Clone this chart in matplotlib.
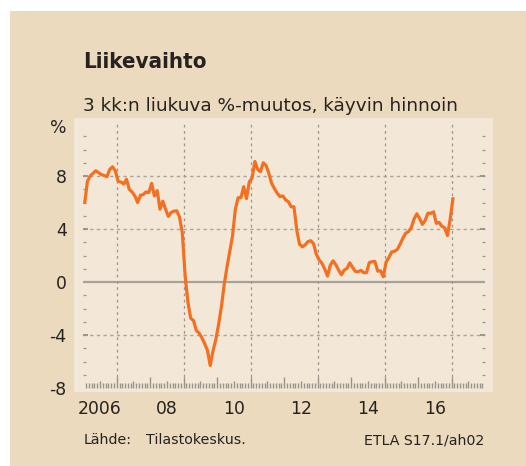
import numpy as np
import matplotlib
matplotlib.use("Agg")
import matplotlib.pyplot as plt
from matplotlib import font_manager
from matplotlib.patches import Rectangle

# Liikevaihto, 3 kk:n liukuva %-muutos, kuukausittain 1/2006 - 1/2017
start_year = 2006
values = [
    5.9, 7.6, 8.0, 8.2, 8.4, 8.25, 8.1, 8.05, 7.95, 8.5, 8.7, 8.4,
    7.6, 7.55, 7.4, 7.75, 7.0, 6.8, 6.5, 6.0, 6.55, 6.6, 6.8, 6.75,
    7.45, 6.5, 6.9, 5.5, 6.1, 5.5, 4.95, 5.25, 5.35, 5.38, 4.9, 3.7,
    0.5, -1.5, -2.74, -2.9, -3.65, -3.85, -4.2, -4.65, -5.15, -6.3, -5.2, -4.35,
    -3.2, -1.87, -0.2, 1.13, 2.3, 3.5, 5.5, 6.36, 6.36, 7.2, 6.3, 7.57,
    7.85, 9.1, 8.5, 8.33, 9.0, 8.8, 8.2, 7.45, 7.05, 6.7, 6.45, 6.5,
    6.2, 6.06, 5.68, 5.68, 3.92, 2.85, 2.66, 2.8, 3.05, 3.12, 2.9, 2.1,
    1.68, 1.42, 1.0, 0.45, 1.26, 1.6, 1.3, 0.9, 0.55, 0.9, 1.03, 1.45,
    1.1, 0.8, 0.78, 0.88, 0.7, 0.72, 1.47, 1.53, 1.55, 0.82, 0.85, 0.4,
    1.5, 1.85, 2.27, 2.32, 2.45, 2.85, 3.3, 3.68, 3.8, 4.1, 4.75, 5.15,
    4.8, 4.35, 4.65, 5.2, 5.18, 5.3, 4.43, 4.5, 4.2, 4.1, 3.5, 4.8,
    6.4,
]
year_labels = ["2006", "08", "10", "12", "14", "16"]
y_ticks = [-8, -4, 0, 4, 8]
y_labels = ["-8", "-4", "0", "4", "8"]

title = "Liikevaihto"
subtitle = "3 kk:n liukuva %-muutos, käyvin hinnoin"
source = "Lähde:"
source_name = "Tilastokeskus."
code = "ETLA S17.1/ah02"

bg = "#ebdabe"
panel = "#f3e8d7"
orange = "#f36f21"
grid = "#9a958d"
ink = "#262220"

# kapea lihavoitu otsikkofontti, jos sellainen löytyy
fonts = font_manager.fontManager.ttflist
if any(f.name == "Liberation Sans Narrow" for f in fonts):
    title_font, title_size, title_stretch = "Liberation Sans Narrow", 19.8, "normal"
elif any(f.name == "DejaVu Sans" and f.stretch == "condensed" for f in fonts):
    title_font, title_size, title_stretch = "DejaVu Sans", 16.0, "condensed"
else:
    title_font, title_size, title_stretch = "DejaVu Sans", 15.2, "normal"

W, H = 526, 466
fig = plt.figure(figsize=(W / 100, H / 100), dpi=100, facecolor="white")
fig.add_artist(Rectangle((10 / W, 0), 1, 1 - 11 / H, transform=fig.transFigure,
                         facecolor=bg, edgecolor="none", zorder=-10))

ax = fig.add_axes([74 / W, 1 - 392 / H, (493 - 74) / W, (392 - 118) / H], facecolor=panel)
ax.set_zorder(1)
for s in ax.spines.values():
    s.set_visible(False)

x0, x1 = 2005.985, 2018.0

# vaakaviivat ja asteikon väliviivat
for y in y_ticks[1:]:
    if y == 0:
        ax.hlines(y, x0, x1, colors="#a7a299", lw=1.6, zorder=2)
    else:
        ax.hlines(y, x0, x1, colors="#aaa59c", lw=1.0, linestyles=(0, (2.4, 2.4)), zorder=2)
        ax.hlines(y, x0, x0 + 0.15, colors=grid, lw=1.4, zorder=2)
        ax.hlines(y, x1 - 0.15, x1, colors=grid, lw=1.4, zorder=2)
minor_y = [y for y in range(-7, 12) if y % 4]
ax.hlines(minor_y, x0, x0 + 0.11, colors=grid, lw=0.9, zorder=2)
ax.hlines(minor_y, x1 - 0.11, x1, colors=grid, lw=0.9, zorder=2)

# pystyviivat parittomien vuosien kohdalla
for yr in range(2007, 2018, 2):
    ax.vlines(yr, -7.2, 12.1, colors=grid, lw=0.9, linestyles=(0, (2.2, 2.8)), zorder=2)

# kuukausiasteikko alareunassa
k = np.arange(1, 12 * 12)
ticks = start_year + k / 12
tops = np.where(k % 12 == 0, -7.2, np.where(k % 6 == 0, -7.5, -7.62))
ax.vlines(ticks, -8.0, tops, colors="#97928a", lw=1.0, zorder=2)

months = start_year + (np.arange(len(values)) + 0.5) / 12
ax.plot(months, values, color=orange, lw=2.3, solid_joinstyle="round",
        solid_capstyle="butt", zorder=5)

ax.set_xlim(2005.725, 2018.233)
ax.set_ylim(-8.30, 12.38)
ax.set_xticks([start_year + 2 * i + 0.5 for i in range(len(year_labels))], year_labels)
ax.set_yticks(y_ticks, y_labels)
ax.tick_params(axis="both", length=0, labelsize=12.4, labelcolor=ink)
ax.tick_params(axis="y", pad=5.3)
ax.tick_params(axis="x", pad=6)

fig.text(82.7 / W, 1 - 68 / H, title, family=title_font, fontweight="bold",
         fontstretch=title_stretch, fontsize=title_size, va="baseline", color=ink)
fig.text(82.7 / W, 1 - 111 / H, subtitle, fontsize=13.3, va="baseline", color=ink)
fig.text(58.7 / W, 1 - 128 / H, "%", fontsize=12.4, ha="center", va="center", color=ink)
fig.text(83.3 / W, 1 - 444.3 / H, source, fontsize=10.2, va="baseline", color=ink)
fig.text(146 / W, 1 - 444.3 / H, source_name, fontsize=10.2, va="baseline", color=ink)
fig.text(484.3 / W, 1 - 444.3 / H, code, fontsize=10.2, ha="right", va="baseline", color=ink)

fig.savefig("out.png", dpi=100, facecolor="white")
